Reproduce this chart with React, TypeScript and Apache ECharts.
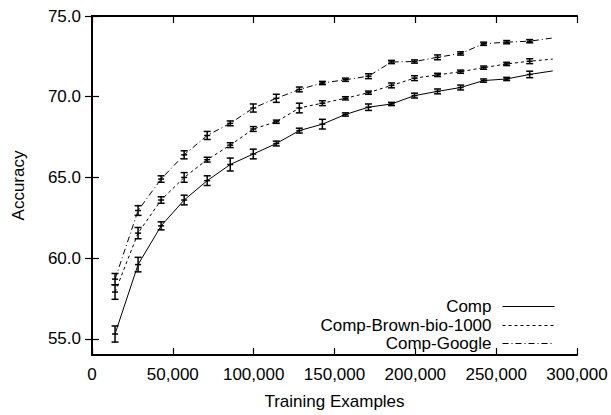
import React, { useEffect, useRef } from "react";
import * as echarts from "echarts";

const xValues = [
  14250, 28500, 42750, 57000, 71250, 85500, 99750, 114000, 128250, 142500,
  156750, 171000, 185250, 199500, 213750, 228000, 242250, 256500, 270750, 285000,
];

const comp = [55.3, 59.6, 62.0, 63.6, 64.8, 65.8, 66.45, 67.1, 67.9, 68.3, 68.9, 69.35, 69.55, 70.07, 70.33, 70.57, 71.0, 71.1, 71.38, 71.6];
const compErr = [0.5, 0.45, 0.25, 0.3, 0.3, 0.4, 0.3, 0.15, 0.15, 0.3, 0.1, 0.2, 0.1, 0.15, 0.15, 0.15, 0.1, 0.1, 0.2, null];

const brown = [57.9, 61.55, 63.6, 65.0, 66.1, 67.0, 68.0, 68.45, 69.3, 69.6, 69.9, 70.25, 70.7, 71.15, 71.35, 71.55, 71.8, 72.03, 72.2, 72.33];
const brownErr = [0.45, 0.35, 0.2, 0.3, 0.15, 0.15, 0.15, 0.1, 0.3, 0.15, 0.1, 0.1, 0.15, 0.15, 0.1, 0.1, 0.1, 0.1, 0.15, null];

const google = [58.7, 62.95, 64.9, 66.4, 67.6, 68.35, 69.3, 69.9, 70.45, 70.85, 71.05, 71.27, 72.15, 72.18, 72.44, 72.68, 73.28, 73.38, 73.44, 73.64];
const googleErr = [0.35, 0.3, 0.2, 0.25, 0.25, 0.15, 0.25, 0.25, 0.15, 0.1, 0.1, 0.15, 0.1, 0.1, 0.15, 0.1, 0.1, 0.1, 0.1, null];

const seriesNames = ["Comp", "Comp-Brown-bio-1000", "Comp-Google"];
const yTicks = [55, 60, 65, 70, 75];

const FONT = "'Liberation Sans', Arial, sans-serif";
const FS = 17;

const dashStyles: any[] = ["solid", [3, 3], [6, 3, 1, 3]];

function errData(vals: number[], errs: (number | null)[]) {
  const out: number[][] = [];
  xValues.forEach((x, i) => {
    const e = errs[i];
    if (e != null) out.push([x, vals[i], e]);
  });
  return out;
}

const renderErr = (params: any, api: any) => {
  const x = api.value(0);
  const y = api.value(1);
  const e = api.value(2);
  const t = api.coord([x, y + e]);
  const b = api.coord([x, y - e]);
  const c = api.coord([x, y]);
  const hw = 3.5;
  const st = { stroke: "#000", lineWidth: 1.5 };
  return {
    type: "group",
    children: [
      { type: "line", shape: { x1: t[0], y1: t[1], x2: b[0], y2: b[1] }, style: st },
      { type: "line", shape: { x1: t[0] - hw, y1: t[1], x2: t[0] + hw, y2: t[1] }, style: st },
      { type: "line", shape: { x1: b[0] - hw, y1: b[1], x2: b[0] + hw, y2: b[1] }, style: st },
      { type: "line", shape: { x1: c[0] - 3, y1: c[1], x2: c[0] + 3, y2: c[1] }, style: st },
    ],
  };
};

export default function App() {
  const ref = useRef<HTMLDivElement>(null);
  useEffect(() => {
    if (!ref.current) return;
    const chart = echarts.init(ref.current, undefined, { renderer: "svg" });
    const vals = [comp, brown, google];
    const errs = [compErr, brownErr, googleErr];

    const lineSeries = seriesNames.map((name, i) => ({
      name,
      type: "line",
      xAxisIndex: 0,
      yAxisIndex: 0,
      symbol: "none",
      data: xValues.map((x, k) => [x, vals[i][k]]),
      lineStyle: { color: "#000", width: 1, type: dashStyles[i] },
      itemStyle: { color: "#000" },
      z: 3,
    }));

    const errSeries = seriesNames.map((name, i) => ({
      name: name + " error",
      type: "custom",
      xAxisIndex: 0,
      yAxisIndex: 0,
      renderItem: renderErr,
      encode: { x: 0, y: 1 },
      data: errData(vals[i], errs[i]),
      z: 4,
    }));

    const legendRows = [298, 317, 335];
    const legends = seriesNames.map((name, i) => ({
      data: [name],
      orient: "vertical",
      right: 56,
      top: legendRows[i],
      align: "right",
      padding: 0,
      itemWidth: 52,
      itemHeight: 14,
      selectedMode: false,
      itemStyle: { opacity: 0 },
      lineStyle: { width: 1, color: "#000", type: dashStyles[i] },
      textStyle: {
        fontFamily: FONT,
        fontSize: FS,
        fontWeight: "normal",
        color: "#000",
        padding: [0, 6, 0, 0],
      },
    }));

    const axisLineStyle = { lineStyle: { color: "#000", width: 2 } };
    const tickStyle = { inside: true, length: 7, lineStyle: { color: "#000", width: 1.2 } };

    chart.setOption({
      animation: false,
      backgroundColor: "#fff",
      grid: { left: 92, right: 34, top: 16, bottom: 54 },
      legend: legends,
      xAxis: [
        {
          type: "value",
          min: 0,
          max: 300000,
          interval: 50000,
          position: "bottom",
          name: "Training Examples",
          nameLocation: "middle",
          nameGap: 38,
          nameTextStyle: { fontFamily: FONT, fontSize: FS, color: "#000" },
          axisLine: axisLineStyle,
          axisTick: tickStyle,
          splitLine: { show: false },
          axisLabel: {
            fontFamily: FONT,
            fontSize: FS,
            color: "#000",
            margin: 11,
            formatter: (v: number) => v.toLocaleString("en-US"),
          },
        },
        {
          type: "value",
          min: 0,
          max: 300000,
          interval: 50000,
          position: "top",
          axisLine: axisLineStyle,
          axisTick: tickStyle,
          splitLine: { show: false },
          axisLabel: { show: false },
        },
      ],
      yAxis: [
        {
          type: "value",
          min: 54,
          max: 75,
          position: "left",
          name: "Accuracy",
          nameLocation: "middle",
          nameGap: 65,
          nameTextStyle: { fontFamily: FONT, fontSize: FS, color: "#000" },
          axisLine: axisLineStyle,
          axisTick: { ...tickStyle, customValues: yTicks },
          splitLine: { show: false },
          axisLabel: {
            customValues: yTicks,
            fontFamily: FONT,
            fontSize: FS,
            color: "#000",
            margin: 11,
            formatter: (v: number) => v.toFixed(1),
          },
        },
        {
          type: "value",
          min: 54,
          max: 75,
          position: "right",
          axisLine: axisLineStyle,
          axisTick: { ...tickStyle, customValues: yTicks },
          splitLine: { show: false },
          axisLabel: { show: false },
        },
      ],
      series: [...lineSeries, ...errSeries],
    });
    return () => chart.dispose();
  }, []);

  return (
    <div
      ref={ref}
      style={{ position: "fixed", left: 0, top: 0, width: 611, height: 415 }}
    />
  );
}
